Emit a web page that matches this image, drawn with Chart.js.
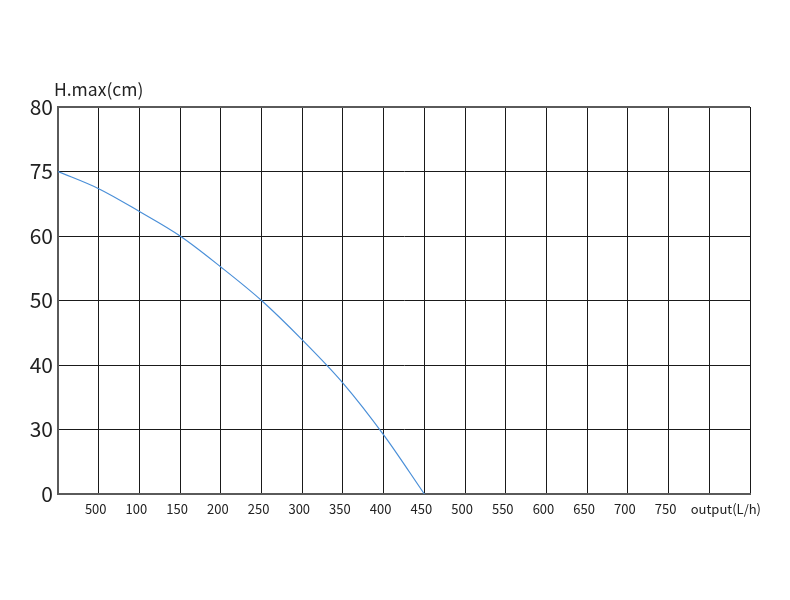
<!DOCTYPE html>
<html>
<head>
<meta charset="utf-8">
<script src="https://cdn.jsdelivr.net/npm/chart.js@4/dist/chart.umd.min.js"></script>
<style>
    html, body { margin: 0; padding: 0; background: #fff; }
    #wrap { width: 790px; height: 600px; }
</style>
</head>
<body>
<div id="wrap"><canvas id="pumpChart"></canvas></div>
<script>
// flow steps (L/h) of the vertical grid, and the labels printed under them
const xGridValues = [0, 50, 100, 150, 200, 250, 300, 350, 400, 450, 500, 550, 600, 650, 700, 750, 800, 850];
const xTickLabels = ['', '500', '100', '150', '200', '250', '300', '350', '400', '450', '500', '550', '600', '650', '700', '750', '', ''];
const xAxisTitle = 'output(L/h)';
const xAxisTitleAt = 824;

// the y axis is not linear: every label sits on its own equally spaced line
const yTickLabels = [0, 30, 40, 50, 60, 75, 80];
const yAxisTitle = 'H.max(cm)';

// curve
const flow = [0, 50, 100, 150, 200, 250, 300, 350, 400, 450];
const head = [75, 71, 65.7, 60, 55.2, 50, 43.9, 37.2, 27.5, 0];

const textColor = '#222';
const fontFamily = '"Noto Sans CJK SC", "Noto Sans", sans-serif';

// cm value -> position on the evenly spaced y grid
function headToGrid(h) {
    for (let i = 0; i < yTickLabels.length - 1; i++) {
        let a = yTickLabels[i], b = yTickLabels[i + 1];
        if (h >= a && h <= b) {
            return i + (h - a) / (b - a);
        }
    }
    return yTickLabels.length - 1;
}

const points = flow.map((f, i) => ({ x: f, y: headToGrid(head[i]) }));

const yTitlePlugin = {
    id: 'yTitle',
    afterDraw(chart) {
        const ctx = chart.ctx;
        const area = chart.chartArea;
        ctx.save();
        ctx.fillStyle = textColor;
        ctx.font = '17.5px ' + fontFamily;
        ctx.textAlign = 'left';
        ctx.textBaseline = 'alphabetic';
        ctx.fillText(yAxisTitle, area.left - 4, area.top - 11);
        ctx.restore();
    }
};

new Chart(document.getElementById('pumpChart'), {
    type: 'line',
    data: {
        datasets: [{
            data: points,
            borderColor: '#4a8fd8',
            borderWidth: 1.2,
            pointRadius: 0,
            tension: 0.4,
            cubicInterpolationMode: 'monotone',
            fill: false
        }]
    },
    options: {
        responsive: true,
        maintainAspectRatio: false,
        animation: false,
        layout: { padding: { left: 0, right: 40, top: 107, bottom: 0 } },
        plugins: {
            legend: { display: false },
            tooltip: { enabled: false }
        },
        scales: {
            x: {
                type: 'linear',
                min: 0,
                max: 850,
                afterBuildTicks: scale => {
                    let ticks = xGridValues.map(v => ({ value: v }));
                    ticks.push({ value: xAxisTitleAt });
                    ticks.sort((a, b) => a.value - b.value);
                    scale.ticks = ticks;
                },
                afterFit: scale => { scale.height = 106; },
                grid: {
                    drawTicks: false,
                    color: c => {
                        if (c.tick && c.tick.value === xAxisTitleAt) return 'rgba(0,0,0,0)';
                        return '#1a1a1a';
                    },
                    lineWidth: 1
                },
                border: { color: '#5a5a5a', width: 2 },
                ticks: {
                    autoSkip: false,
                    maxRotation: 0,
                    padding: 7,
                    labelOffset: -3,
                    color: textColor,
                    font: { family: fontFamily, size: 13 },
                    callback: function (value) {
                        if (value === xAxisTitleAt) return xAxisTitle;
                        let i = xGridValues.indexOf(value);
                        return i >= 0 ? xTickLabels[i] : '';
                    }
                }
            },
            y: {
                type: 'linear',
                min: 0,
                max: yTickLabels.length - 1,
                afterFit: scale => { scale.width = 58; },
                grid: {
                    drawTicks: false,
                    color: c => (c.tick && c.tick.value === yTickLabels.length - 1) ? '#5a5a5a' : '#1a1a1a',
                    lineWidth: c => (c.tick && c.tick.value === yTickLabels.length - 1) ? 2 : 1
                },
                border: { color: '#5a5a5a', width: 2 },
                ticks: {
                    stepSize: 1,
                    padding: 5,
                    color: textColor,
                    font: { family: fontFamily, size: 21 },
                    callback: value => yTickLabels[value]
                }
            }
        }
    },
    plugins: [yTitlePlugin]
});
</script>
</body>
</html>
